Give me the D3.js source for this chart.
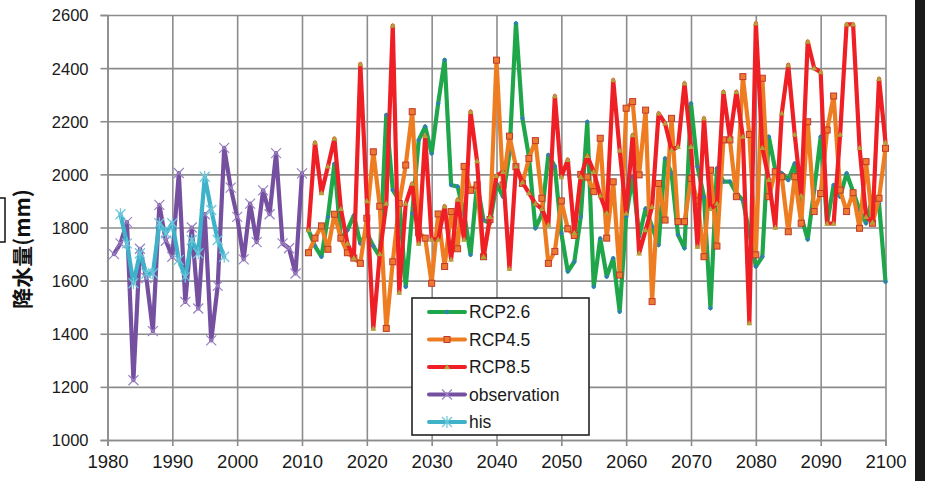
<!DOCTYPE html>
<html><head><meta charset="utf-8">
<script src="https://cdn.jsdelivr.net/npm/d3@7"></script>
<style>
html,body{margin:0;padding:0;background:#fff;}
svg{display:block;}
</style></head>
<body>
<svg id="chart" width="925" height="481"></svg>
<script>
// ---- data ----
const obsYears = d3.range(1981, 2011);
const observation = [1700,1740,1820,1225,1720,1610,1410,1885,1750,1690,2005,1520,1800,1495,1850,1375,1580,2100,1950,1840,1680,1890,1745,1940,1850,2080,1740,1722,1627,2004];
const hisYears = d3.range(1982, 1999);
const his = [1850,1740,1590,1703,1627,1627,1816,1778,1816,1678,1615,1753,1703,1991,1866,1753,1690];
const rcpYears = d3.range(2011, 2101);
const rcp26 = [1790,1730,1690,1840,2040,1755,1790,1845,1740,1780,1730,1690,2224,1941,1903,1577,1853,2129,2180,2079,2267,2431,1960,1954,1853,1697,1966,1828,1816,1966,1916,2079,2569,2211,2067,1797,1850,2073,2030,1778,1634,1671,1840,2198,1577,1759,1615,1684,1483,1841,1991,1765,1872,1803,1734,2060,2004,1772,1722,2267,2029,1916,1496,2023,1973,1973,1929,1903,1780,1653,1690,2142,2017,2004,1979,2041,1841,1755,1941,2142,1816,1960,1916,2004,1935,1866,1816,1916,1891,1596];
const rcp45 = [1705,1760,1806,1718,1850,1760,1705,1685,1665,1835,2085,1880,1420,1671,1890,2035,2236,1780,1760,1590,1851,1653,1860,1720,2030,1940,1960,1690,1830,2430,1960,2144,2029,1966,2060,2127,1910,1665,1710,1900,1795,1770,2000,1990,1935,2136,1760,1972,1621,2249,2274,1998,2242,1521,1966,1828,2211,1822,1822,1985,1900,1690,2016,1730,2130,2130,1916,2368,2150,1697,2362,1916,2010,1991,1784,1991,1816,2198,1860,1928,2167,2295,1941,1860,1931,1797,2048,1816,1910,2098];
const rcp85 = [1790,2120,1930,2030,2135,1870,1740,1685,2415,1900,1420,1700,1890,2560,1555,1890,1965,1740,2145,1755,1755,1880,1680,1905,1755,2236,2050,1690,1840,1995,2010,1645,2030,1970,1930,1890,1870,1810,2295,1990,2055,1780,1990,2070,2010,1920,1855,2355,2090,1853,2148,1703,1790,1878,2230,2192,2092,2104,2343,2104,1728,2211,1870,1890,2311,2136,2311,2142,1440,2569,2100,1980,1800,2230,2412,2150,1920,2500,2400,2385,1815,1815,2150,2565,2565,2100,1840,1820,2360,2120];
const xTicks = d3.range(1980, 2101, 10);
const yTicks = d3.range(1000, 2601, 200);
const seriesNames = ["RCP2.6","RCP4.5","RCP8.5","observation","his"];
const yTitle = "降水量(mm)";

// ---- layout ----
const svg = d3.select("#chart");
const L = 107.5, R = 885.5, T = 15, B = 440;
const x = d3.scaleLinear().domain([1980, 2100]).range([L, R]);
const y = d3.scaleLinear().domain([1000, 2600]).range([B, T]);
const gridCol = "#8c8c8c";

// gridlines
const gx = svg.append("g").attr("transform", `translate(0,${B})`)
  .call(d3.axisBottom(x).tickValues(xTicks).tickSize(-(B - T)).tickFormat(""));
const gy = svg.append("g").attr("transform", `translate(${L},0)`)
  .call(d3.axisLeft(y).tickValues(yTicks).tickSize(-(R - L)).tickFormat(""));
[gx, gy].forEach(g => {
  g.select(".domain").remove();
  g.selectAll("line").attr("stroke", gridCol).attr("stroke-width", 1.6);
});

// labelled axes with outward ticks
const ax = svg.append("g").attr("transform", `translate(0,${B})`)
  .call(d3.axisBottom(x).tickValues(xTicks).tickSize(6).tickPadding(9).tickFormat(d3.format("d")));
const ay = svg.append("g").attr("transform", `translate(${L},0)`)
  .call(d3.axisLeft(y).tickValues(yTicks).tickSize(7).tickPadding(12).tickFormat(d3.format("d")));
[ax, ay].forEach(g => {
  g.select(".domain").attr("stroke", gridCol).attr("stroke-width", 1.6);
  g.selectAll("line").attr("stroke", gridCol).attr("stroke-width", 1.6);
  g.selectAll("text").attr("fill", "#1a1a1a").attr("font-family", "'Liberation Sans', Arial, sans-serif");
});
ax.selectAll("text").attr("font-size", 18.5);
ay.selectAll("text").attr("font-size", 16.5).attr("dy", "0.36em");

// y title
svg.append("text")
  .attr("transform", "translate(30,249) rotate(-90)")
  .attr("text-anchor", "middle")
  .attr("font-family", "'Noto Sans CJK SC','Noto Sans CJK JP',sans-serif")
  .attr("font-weight", "bold").attr("font-size", 21).attr("fill", "#111")
  .text(yTitle);

// ---- markers ----
function marker(g, type, cx, cy) {
  if (type === "diamond") {
    g.append("path").attr("d", `M${cx},${cy-2.5}L${cx+2.5},${cy}L${cx},${cy+2.5}L${cx-2.5},${cy}Z`)
      .attr("fill", "#2f7fb5");
  } else if (type === "square") {
    g.append("rect").attr("x", cx-3).attr("y", cy-3).attr("width", 6).attr("height", 6)
      .attr("fill", "#ee7a30").attr("stroke", "#c0392b").attr("stroke-width", 1);
  } else if (type === "triangle") {
    g.append("path").attr("d", `M${cx},${cy-3}L${cx+3},${cy+2.2}L${cx-3},${cy+2.2}Z`)
      .attr("fill", "#b3a13a");
  } else if (type === "x") {
    g.append("path").attr("d", `M${cx-5},${cy-5}L${cx+5},${cy+5}M${cx-5},${cy+5}L${cx+5},${cy-5}`)
      .attr("stroke", "#9a82c2").attr("stroke-width", 1.2).attr("fill", "none");
  } else if (type === "star") {
    g.append("path").attr("d", `M${cx-5},${cy-5}L${cx+5},${cy+5}M${cx-5},${cy+5}L${cx+5},${cy-5}M${cx},${cy-6}L${cx},${cy+6}`)
      .attr("stroke", "#6cc7db").attr("stroke-width", 1.2).attr("fill", "none");
  }
}

const series = [
  {name: seriesNames[0], years: rcpYears, vals: rcp26, color: "#1fa64a", m: "diamond"},
  {name: seriesNames[1], years: rcpYears, vals: rcp45, color: "#ee7d22", m: "square"},
  {name: seriesNames[2], years: rcpYears, vals: rcp85, color: "#ee1f25", m: "triangle"},
  {name: seriesNames[3], years: obsYears, vals: observation, color: "#7650a0", m: "x"},
  {name: seriesNames[4], years: hisYears, vals: his, color: "#3fb2c9", m: "star"}
];

const line = d3.line().x(d => x(d[0])).y(d => y(d[1]));
series.forEach(s => {
  const pts = s.years.map((yr, i) => [yr, s.vals[i]]);
  const g = svg.append("g");
  g.append("path").datum(pts).attr("d", line)
    .attr("fill", "none").attr("stroke", s.color).attr("stroke-width", 4.2)
    .attr("stroke-linejoin", "round").attr("stroke-linecap", "round");
  pts.forEach(p => marker(g, s.m, x(p[0]), y(p[1])));
});

// ---- legend ----
const lg = svg.append("g");
lg.append("rect").attr("x", 412).attr("y", 298).attr("width", 177).attr("height", 137)
  .attr("fill", "#fff").attr("stroke", "#222").attr("stroke-width", 1.6);
series.forEach((s, i) => {
  const cy = 312 + i * 27.5;
  lg.append("line").attr("x1", 429).attr("x2", 465).attr("y1", cy).attr("y2", cy)
    .attr("stroke", s.color).attr("stroke-width", 4).attr("stroke-linecap", "round");
  marker(lg, s.m, 447, cy);
  lg.append("text").attr("x", 469).attr("y", cy).attr("dy", "0.35em")
    .attr("font-family", "'Liberation Sans', Arial, sans-serif").attr("font-size", 17.5)
    .attr("fill", "#1a1a1a").text(s.name);
});

// ---- edge fragments ----
svg.append("rect").attr("x", 915).attr("y", 0).attr("width", 10).attr("height", 481).attr("fill", "#1a1a1a");
svg.append("rect").attr("x", -10).attr("y", 198).attr("width", 15).attr("height", 44)
  .attr("fill", "none").attr("stroke", "#111").attr("stroke-width", 1.5);
</script>
</body></html>
